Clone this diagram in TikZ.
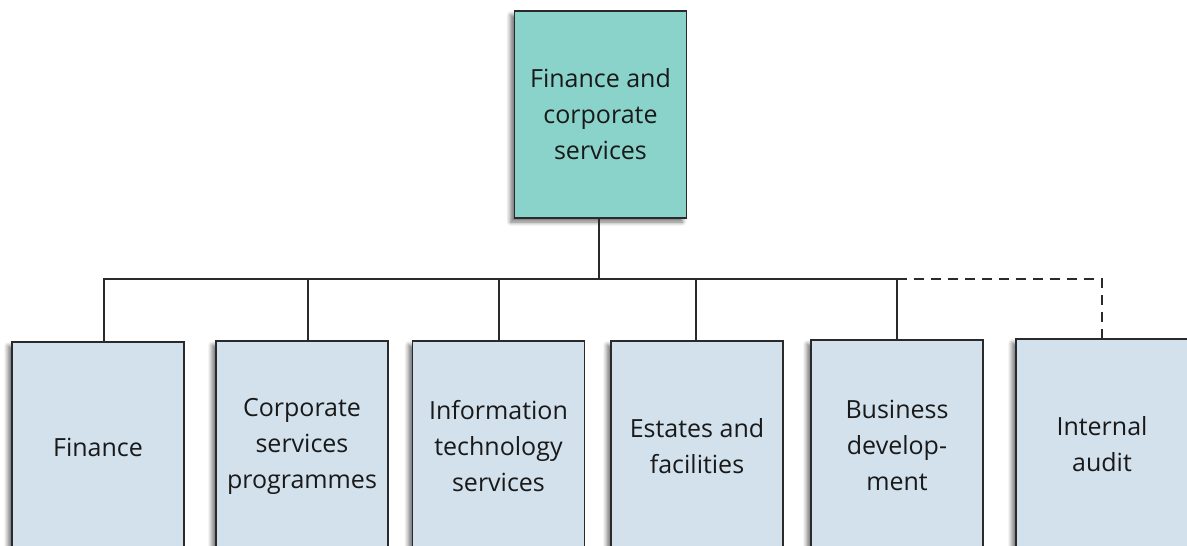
\documentclass[tikz,border=0pt]{standalone}
\usepackage{fontspec}
\setmainfont{Open Sans}
\usetikzlibrary{shadows.blur}
\definecolor{topfill}{HTML}{8AD3CB}
\definecolor{subfill}{HTML}{D2E1EC}
\definecolor{edge}{HTML}{2A2A2A}
\tikzset{
  boxbase/.style={draw=edge, line width=1.3pt, minimum width=172pt, align=center,
    font=\fontsize{25}{36}\selectfont, text=black!90, inner sep=0pt,
    blur shadow={shadow xshift=-4pt, shadow yshift=-4pt, shadow blur steps=6, shadow blur radius=4pt, shadow opacity=55}},
  topbox/.style={boxbase, fill=topfill, minimum height=207pt},
  subbox/.style={boxbase, fill=subfill, minimum height=210pt},
  link/.style={draw=edge, line width=2.4pt},
  dlink/.style={link, dash pattern=on 10pt off 7pt}
}
\begin{document}
\begin{tikzpicture}[x=1pt,y=-1pt]
\useasboundingbox (0,0) rectangle (1187,546);
\node[topbox] (top) at (600.5,114.5) {Finance and\\corporate\\services};
\node[subbox] (fin) at (98,447) {Finance};
\node[subbox] (csp) at (302,446) {Corporate\\services\\programmes};
\node[subbox] (its) at (498.5,446) {Information\\technology\\services};
\node[subbox] (est) at (697,446) {Estates and\\facilities};
\node[subbox] (bus) at (897,445) {Business\\develop-\\ment};
\node[subbox] (aud) at (1102,444) {Internal\\audit};
\coordinate (hub) at (599,279);
\draw[link] (top.south -| hub) -- (hub);
\draw[link] (fin.north -| 104,0) |- (bus.north |- hub);
\draw[link] (csp.north -| 308,0) -- (308,279);
\draw[link] (its.north -| 499,0) -- (499,279);
\draw[link] (est.north -| 696,0) -- (696,279);
\draw[link] (bus.north) -- (bus.north |- hub);
\draw[dlink] (bus.north |- hub) -| (aud.north);
\end{tikzpicture}
\end{document}
